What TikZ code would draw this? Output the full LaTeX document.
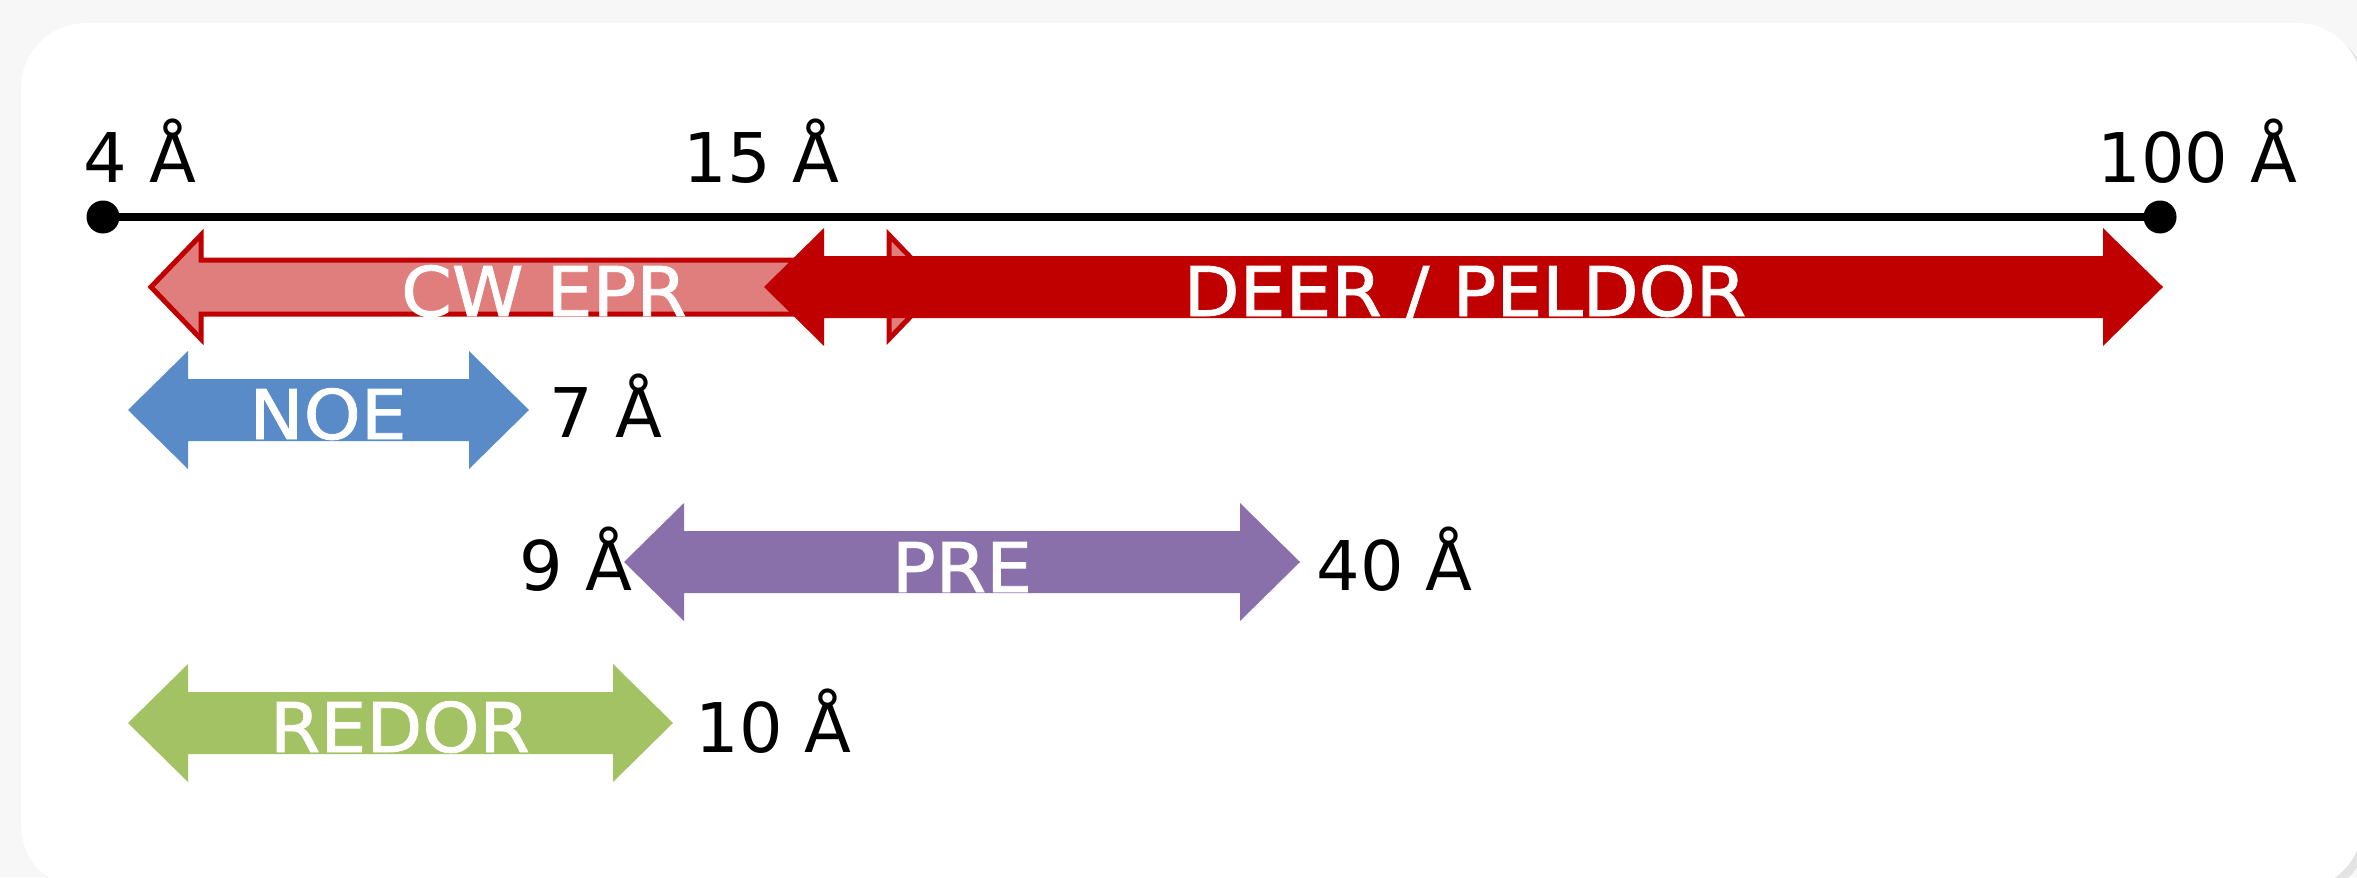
\documentclass[tikz,border=0pt]{standalone}
\usepackage{fontspec}
\setmainfont{DejaVu Sans}
\newfontfamily\methfamily[FakeStretch=1.06, FakeBold=1.2]{DejaVu Sans}
\usepackage{tikz}
\usetikzlibrary{calc}
\definecolor{deerred}{HTML}{C00000}
\definecolor{cwfill}{RGB}{224,126,126}
\definecolor{noeblue}{RGB}{88,139,200}
\definecolor{prepurple}{RGB}{137,112,171}
\definecolor{redorgreen}{RGB}{162,194,100}
\newcommand{\distfont}{\fontsize{19.5}{23}\selectfont}
\newcommand{\methfont}{\methfamily\fontsize{19.5}{23}\selectfont}
\newcommand{\headlen}{60}
\newcommand{\headhalf}{59}
\newcommand{\shafthalf}{31}
% double headed block arrow between two tip coordinates
\newcommand{\rangearrow}[3]{%
  \path[#1] (#2) -- ++(\headlen,-\headhalf) -- ++(0,\headhalf-\shafthalf)
    -- ($(#3)+(-\headlen,-\shafthalf)$) -- ++(0,\shafthalf-\headhalf)
    -- (#3) -- ++(-\headlen,\headhalf) -- ++(0,\shafthalf-\headhalf)
    -- ($(#2)+(\headlen,\shafthalf)$) -- ++(0,\headhalf-\shafthalf) -- cycle;
}

\begin{document}
\begin{tikzpicture}[x=0.1mm, y=-0.1mm]
    \tikzset{
        distlbl/.style={
            anchor=base west, inner sep=0pt, font=\distfont
        },
        methlbl/.style={
            anchor=base, inner sep=0pt, text=white, font=\methfont
        },
        enddot/.style={
            circle, fill=black, inner sep=0pt, minimum size=3.3mm
        },
    }
    \useasboundingbox (0,0) rectangle (2357,877);

    % ==== Card ====
    \fill[gray!6] (0,0) rectangle (2357,877);
    \fill[gray!22, rounded corners=6.5mm] (27,29) rectangle (2368,896);
    \fill[white, rounded corners=6.5mm] (21,23) rectangle (2362,890);

    % ==== Distance axis ====
    \node[enddot] (d4) at (103,217) {};
    \node[enddot] (d100) at (2160,217) {};
    \draw[line width=0.8mm] (d4.center) -- (d100.center);

    \node[distlbl] (l4) at (83,182) {4 Å};
    \node[distlbl] (l15) at (683,182) {15 Å};
    \node[distlbl] (l100) at (2097,182) {100 Å};

    % ==== Arrow ends ====
    \coordinate (cwL) at (151,287);
    \coordinate (cwR) at (939,287);
    \coordinate (deerL) at (764,287);
    \coordinate (deerR) at (2163,287);
    \coordinate (noeL) at (128,410);
    \coordinate (noeR) at (529,410);
    \coordinate (preL) at (624,562);
    \coordinate (preR) at (1300,562);
    \coordinate (redorL) at (128,723);
    \coordinate (redorR) at (673,723);

    % ==== EPR row ====
    \begin{scope}
        \renewcommand{\headlen}{50}
        \renewcommand{\headhalf}{52}
        \renewcommand{\shafthalf}{27}
        \rangearrow{fill=cwfill, draw=deerred, line width=0.5mm}{cwL}{cwR}
    \end{scope}
    \rangearrow{fill=deerred}{deerL}{deerR}

    \node[methlbl] (cw) at (544,316) {CW EPR};
    \node[methlbl] (deer) at (1465,316) {DEER / PELDOR};

    % ==== NMR rows ====
    \rangearrow{fill=noeblue}{noeL}{noeR}
    \node[methlbl] (noe) at (328,439) {NOE};
    \node[distlbl] (l7) at (549,437) {7 Å};

    \rangearrow{fill=prepurple}{preL}{preR}
    \node[methlbl] (pre) at (962,592) {PRE};
    \node[distlbl] (l9) at (519,590) {9 Å};
    \node[distlbl] (l40) at (1316,590) {40 Å};

    \rangearrow{fill=redorgreen}{redorL}{redorR}
    \node[methlbl] (redor) at (400,752) {REDOR};
    \node[distlbl] (l10) at (695,752) {10 Å};
\end{tikzpicture}
\end{document}
